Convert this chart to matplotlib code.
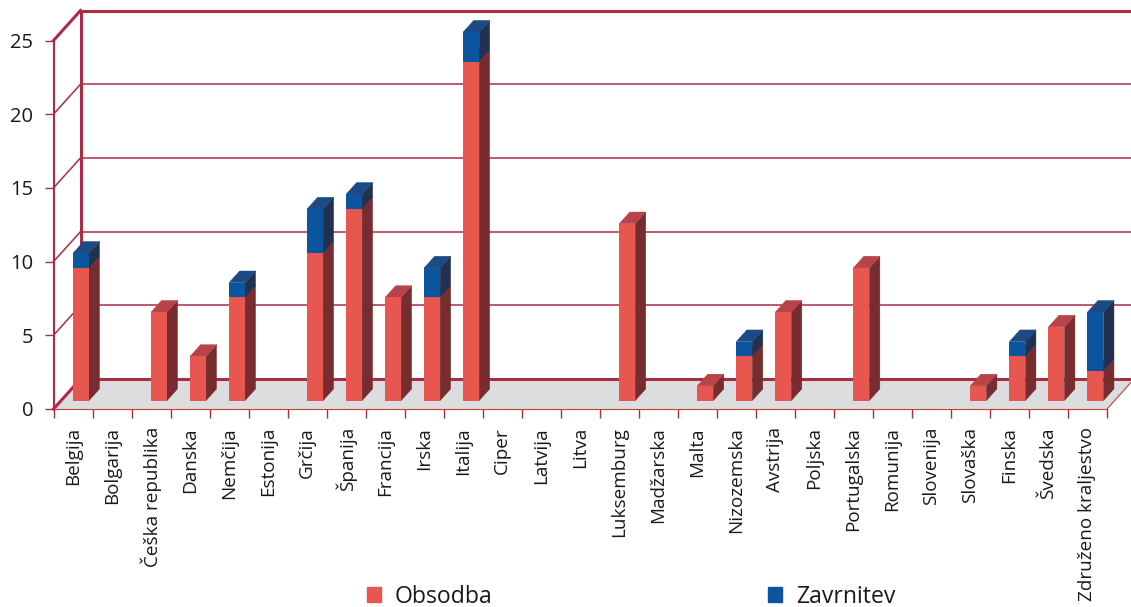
import matplotlib
matplotlib.use('Agg')
import matplotlib.pyplot as plt
from matplotlib.patches import Patch

plt.rcParams['font.family'] = ['Open Sans', 'DejaVu Sans']

countries = ['Belgija', 'Bolgarija', 'Češka republika', 'Danska', 'Nemčija', 'Estonija', 'Grčija',
             'Španija', 'Francija', 'Irska', 'Italija', 'Ciper', 'Latvija', 'Litva', 'Luksemburg',
             'Madžarska', 'Malta', 'Nizozemska', 'Avstrija', 'Poljska', 'Portugalska', 'Romunija',
             'Slovenija', 'Slovaška', 'Finska', 'Švedska', 'Združeno kraljestvo']
obsodba = [9, 0, 6, 3, 7, 0, 10, 13, 7, 7, 23, 0, 0, 0, 12, 0, 1, 3, 6, 0, 9, 0, 0, 1, 3, 5, 2]
zavrnitev = [1, 0, 0, 0, 1, 0, 3, 1, 0, 2, 2, 0, 0, 0, 0, 0, 0, 1, 0, 0, 0, 0, 0, 0, 1, 0, 4]
y_ticks = [0, 5, 10, 15, 20, 25]

# depth of the fake 3d box, in data units (x: categories, y: values)
DEPTH_X = 27 / 39
DEPTH_Y = 30 / 14.74
BAR_W = 0.41
BAR_D0 = 0.28   # bar starts this far into the depth
BAR_D1 = 0.67

WALL = '#AB2C44'
FLOOR = '#DCDDDF'
RED = ('#E8574F', '#772D30', '#B8444A')
BLUE = ('#0B559F', '#22314F', '#1C4A84')


def draw_segment(ax, i, v0, v1, colors):
    """one stacked piece of a 3d bar: front, side, top"""
    x0 = i + 0.51 - BAR_W / 2 + BAR_D0 * DEPTH_X
    x1 = x0 + BAR_W
    y0 = v0 + BAR_D0 * DEPTH_Y
    y1 = v1 + BAR_D0 * DEPTH_Y
    dx = (BAR_D1 - BAR_D0) * DEPTH_X
    dy = (BAR_D1 - BAR_D0) * DEPTH_Y
    ax.fill([x1, x1 + dx, x1 + dx, x1], [y0, y0 + dy, y1 + dy, y1], color=colors[1], lw=0.3, zorder=5, clip_on=False)
    ax.fill([x0, x1, x1 + dx, x0 + dx], [y1, y1, y1 + dy, y1 + dy], color=colors[2], lw=0.3, zorder=5, clip_on=False)
    ax.fill([x0, x1, x1, x0], [y0, y0, y1, y1], color=colors[0], lw=0, zorder=6, clip_on=False)


fig = plt.figure(figsize=(11.31, 6.07), dpi=100)
ax = fig.add_axes([53.5 / 1131, (607 - 409) / 607, (1107 - 53.5) / 1131, (409 - 40.5) / 607])
ax.set_xlim(0, len(countries))
ax.set_ylim(0, 25)
ax.patch.set_visible(False)

# floor
n = len(countries)
ax.fill([0, n, n + DEPTH_X, DEPTH_X], [0, 0, DEPTH_Y, DEPTH_Y], color=FLOOR, lw=0, zorder=1, clip_on=False)
ax.plot([n, n + DEPTH_X], [0, DEPTH_Y], color='#C8432F', lw=0.8, zorder=2, clip_on=False)
ax.plot([0, n], [0, 0], color='#C8432F', lw=0.8, zorder=2, clip_on=False)

# walls
for v in y_ticks:
    heavy = v in (0, 25)
    lw = 2.2 if heavy else 1.1
    ax.plot([0, DEPTH_X], [v, v + DEPTH_Y], color=WALL, lw=lw, zorder=3, clip_on=False)
    ax.plot([DEPTH_X, n + DEPTH_X], [v + DEPTH_Y, v + DEPTH_Y], color=WALL, lw=lw, zorder=3, clip_on=False)
ax.plot([DEPTH_X, DEPTH_X], [DEPTH_Y, 25 + DEPTH_Y], color=WALL, lw=2.2, zorder=3, clip_on=False)

for i in range(n):
    if obsodba[i] > 0:
        draw_segment(ax, i, 0, obsodba[i], RED)
    if zavrnitev[i] > 0:
        draw_segment(ax, i, obsodba[i], obsodba[i] + zavrnitev[i], BLUE)

for s in ('top', 'right'):
    ax.spines[s].set_visible(False)
ax.spines['left'].set_color(WALL)
ax.spines['left'].set_linewidth(1.5)
ax.spines['bottom'].set_visible(False)

ax.set_yticks(y_ticks)
ax.tick_params(axis='y', length=6.5, width=1.0, color=WALL, pad=8, labelsize=14.5, labelcolor='#1a1a1a')
ax.set_xticks(range(n + 1))
ax.set_xticklabels([])
ax.tick_params(axis='x', which='major', length=6.5, width=1.0, color=WALL)
ax.set_xticks([i + 0.5 for i in range(n)], minor=True)
ax.set_xticklabels(countries, minor=True, rotation=90, ha='center', va='top', fontsize=13.6, color='#1a1a1a')
ax.tick_params(axis='x', which='minor', length=0, pad=13)

handles = [Patch(color=RED[0], label='Obsodba'), Patch(color=BLUE[0], label='Zavrnitev')]
fig.legend(handles=handles, loc='lower left', bbox_to_anchor=(367 / 1131, -2 / 607), ncol=2, frameon=False,
           fontsize=16.6, handlelength=0.61, handleheight=0.61, handletextpad=0.6, columnspacing=11.95,
           labelcolor='#1a1a1a', borderpad=0, borderaxespad=0)

fig.savefig('out.png', dpi=100)
